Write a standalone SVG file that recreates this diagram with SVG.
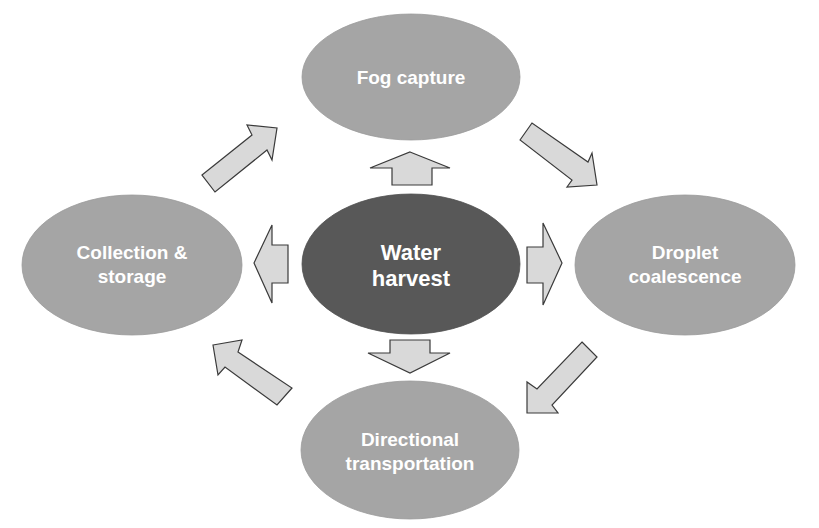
<svg xmlns="http://www.w3.org/2000/svg" width="819" height="528" viewBox="0 0 819 528">
<style>
.node{fill:#a5a5a5;stroke:#9a9a9a;stroke-width:0.8}
.core{fill:#585858;stroke:#505050;stroke-width:0.8}
.lbl{font-family:"Liberation Sans",Arial,sans-serif;font-weight:bold;font-size:19px;fill:#ffffff;text-anchor:middle}
.big{font-size:22px}
.arr{fill:#d9d9d9;stroke:#3a3a3a;stroke-width:1.2;stroke-linejoin:miter}
</style>
<rect width="819" height="528" fill="#ffffff"/>
<g id="connectors">
<polygon class="arr" points="410,152 450,168 432,168 432,185 392,185 392,168 370,168"/>
<polygon class="arr" points="390,340 430,340 430,353 450,353 410,373 368,353 390,353"/>
<polygon class="arr" points="254,263 272,225 272,245 288,245 288,283 272,283 272,303"/>
<polygon class="arr" points="527,247 543,247 543,223 562,263 543,305 543,283 527,283"/>
<polygon class="arr" points="202,175 252,135 247,125 277,128 272,160 267,150 215,192"/>
<polygon class="arr" points="520,140 532,123 588,162 592,153 597,185 567,187 572,180"/>
<polygon class="arr" points="582,342 597,357 552,405 558,413 527,413 527,382 537,389"/>
<polygon class="arr" points="213,345 242,340 238,352 292,388 277,405 225,367 218,375"/>
</g>
<g id="fog-capture">
<ellipse class="node" cx="411" cy="77" rx="109" ry="63"/>
<text class="lbl" x="411" y="84">Fog capture</text>
</g>
<g id="water-harvest">
<ellipse class="core" cx="411" cy="264" rx="109" ry="70"/>
<text class="lbl big" x="411" y="260">Water</text>
<text class="lbl big" x="411" y="286">harvest</text>
</g>
<g id="collection-storage">
<ellipse class="node" cx="132" cy="265" rx="110" ry="70"/>
<text class="lbl" x="132" y="259">Collection &amp;</text>
<text class="lbl" x="132" y="283">storage</text>
</g>
<g id="droplet-coalescence">
<ellipse class="node" cx="685" cy="265" rx="110" ry="70"/>
<text class="lbl" x="685" y="259">Droplet</text>
<text class="lbl" x="685" y="283">coalescence</text>
</g>
<g id="directional-transportation">
<ellipse class="node" cx="410" cy="450" rx="109" ry="69"/>
<text class="lbl" x="410" y="446">Directional</text>
<text class="lbl" x="410" y="470">transportation</text>
</g>
</svg>
